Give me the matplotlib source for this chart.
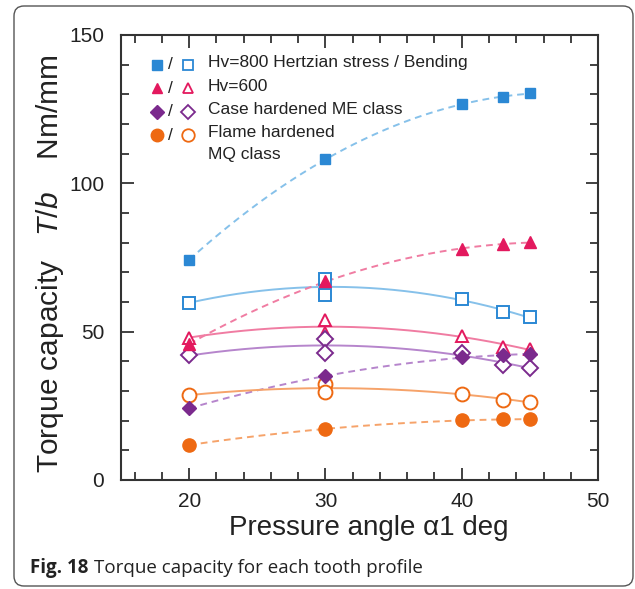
import numpy as np
import matplotlib
matplotlib.use("Agg")
import matplotlib.pyplot as plt
from matplotlib.ticker import MultipleLocator
from matplotlib.patches import FancyBboxPatch
from matplotlib.transforms import IdentityTransform

plt.rcParams['font.family'] = ['Liberation Sans', 'DejaVu Sans']
plt.rcParams['mathtext.fontset'] = 'custom'
plt.rcParams['mathtext.rm'] = 'Liberation Sans'
plt.rcParams['mathtext.it'] = 'Liberation Sans:italic'

# pressure angles (deg)
angle = [20, 30, 40, 43, 45]
angle_b = [20, 30, 30, 40, 43, 45]   # bending results, two cases at 30 deg

# Hv=800
hv800_hertz = [74.2, 108.1, 126.6, 129.2, 130.3]
hv800_bend = [59.7, 67.8, 62.4, 60.9, 56.6, 55.1]
# Hv=600
hv600_hertz = [45.8, 67.0, 77.8, 79.6, 80.1]
hv600_bend = [48.0, 53.9, 49.4, 48.7, 44.9, 44.3]
# case hardened ME class
me_hertz = [24.2, 34.9, 41.4, 42.2, 42.3]
me_bend = [42.0, 47.5, 42.9, 42.7, 38.9, 37.8]
# flame hardened MQ class
mq_hertz = [11.8, 17.2, 20.1, 20.4, 20.5]
mq_bend = [28.6, 32.4, 29.5, 29.0, 27.1, 26.3]

labels = ["Hv=800 Hertzian stress / Bending", "Hv=600",
          "Case hardened ME class", "Flame hardened\nMQ class"]

series = [
    # hertz, bend, marker, size, marker colour, line colour
    (hv800_hertz, hv800_bend, 's', 7.5, '#2b88d4', '#86c1ea'),
    (hv600_hertz, hv600_bend, '^', 8.0, '#e3195e', '#f07ca2'),
    (me_hertz, me_bend, 'D', 7.5, '#7b2a8d', '#b685cc'),
    (mq_hertz, mq_bend, 'o', 9.5, '#ee6912', '#f6a36a'),
]

fig = plt.figure(figsize=(6.35, 5.89), dpi=100)
ax = fig.add_axes([0.1906, 0.1851, 0.7512, 0.7555])

xs = np.linspace(20, 45, 200)
for hertz, bend, mk, ms, mc, lc in series:
    # smooth trend curves: dashed for contact stress, solid for bending
    p_h = np.polyfit(angle, hertz, 2)
    ax.plot(xs, np.polyval(p_h, xs), ls=(0, (3.5, 2.5)), color=lc, lw=1.4, zorder=2)
    p_b = np.polyfit(angle_b, bend, 2)
    ax.plot(xs, np.polyval(p_b, xs), ls='-', color=lc, lw=1.4, zorder=2)
    ax.plot(angle, hertz, ls='none', marker=mk, ms=ms, color=mc,
            mec=mc, zorder=4)
    ax.plot(angle_b, bend, ls='none', marker=mk, ms=ms + 0.5, mfc='white',
            mec=mc, mew=1.4, zorder=3)

ax.set_xlim(15, 50)
ax.set_ylim(0, 150)
ax.xaxis.set_major_locator(MultipleLocator(10))
ax.xaxis.set_minor_locator(MultipleLocator(2))
ax.yaxis.set_major_locator(MultipleLocator(50))
ax.yaxis.set_minor_locator(MultipleLocator(10))
ax.tick_params(which='both', direction='in', top=True, right=True,
               width=1.3, color='#333333', labelsize=15, labelcolor='#222222')
ax.tick_params(which='major', length=9)
ax.tick_params(which='minor', length=5.5)
ax.tick_params(axis='y', pad=12)
ax.tick_params(axis='x', pad=9)
for sp in ax.spines.values():
    sp.set_linewidth(1.5)
    sp.set_color('#333333')

ax.set_xlabel("Pressure angle α1 deg", fontsize=20, color='#222222')
ax.xaxis.label.set_va('center')
ax.xaxis.set_label_coords(0.52, -0.108)
ax.set_ylabel(r"Torque capacity   $\mathit{T/b}$    Nm/mm", fontsize=21.5,
              color='#222222')
ax.yaxis.label.set_va('center')
ax.yaxis.set_label_coords(-0.148, 0.486)

# legend: filled / open marker pairs
rows = [0.933, 0.880, 0.827, 0.775]
for (hertz, bend, mk, ms, mc, lc), lab, yr in zip(series, labels, rows):
    ax.plot([0.075], [yr], marker=mk, ms=ms - 0.5, color=mc,
            transform=ax.transAxes, clip_on=False)
    ax.text(0.104, yr, "/", transform=ax.transAxes, ha='center', va='center',
            fontsize=12.5, color='#222222')
    ax.plot([0.140], [yr], marker=mk, ms=ms - 0.5, mfc='white', mec=mc,
            mew=1.3, transform=ax.transAxes, clip_on=False)
    ax.text(0.182, yr + 0.022, lab, transform=ax.transAxes, ha='left',
            va='top', fontsize=12.5, color='#222222', linespacing=1.55)

# caption
cap_y = 1 - 568 / 589
t1 = fig.text(30 / 635, cap_y, "Fig. 18", fontsize=13.5, fontweight='bold',
              family='Open Sans', va='center', color='#222222')
fig.canvas.draw()
bb = t1.get_window_extent()
fig.text((bb.x1 + 6) / 635, cap_y, "Torque capacity for each tooth profile",
         fontsize=13.5, family='Open Sans', va='center', color='#222222')

# rounded frame around the figure
frame = FancyBboxPatch((14, 3), 619, 580,
                       boxstyle="round,pad=0,rounding_size=10",
                       transform=IdentityTransform(), fill=False,
                       ec='#555555', lw=1.0)
fig.patches.append(frame)

fig.savefig("out.png", dpi=100)
